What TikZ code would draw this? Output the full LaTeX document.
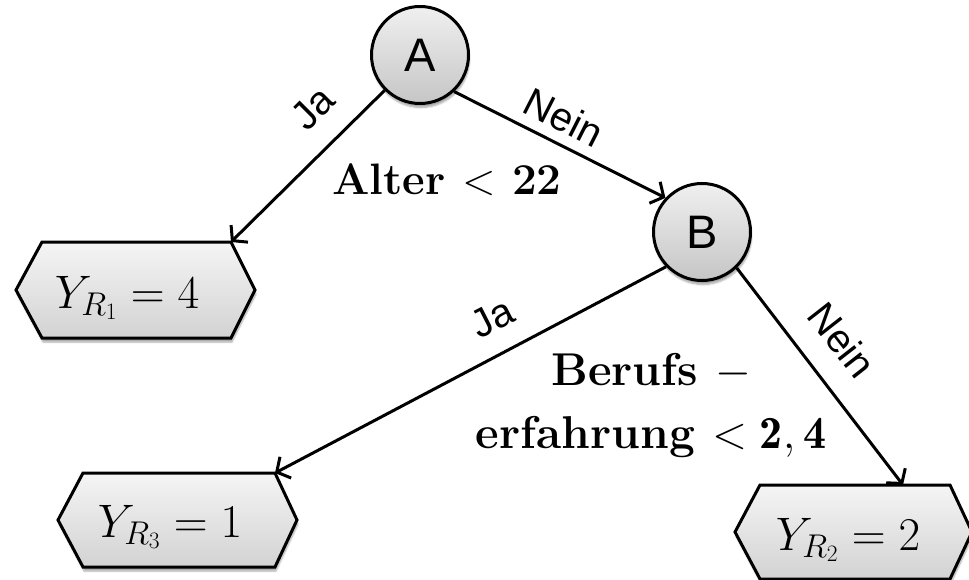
\RequirePackage{fix-cm}
\documentclass[tikz,border=0pt]{standalone}
\usepackage{fontspec}
\newfontfamily\arialf{Liberation Sans}
\usetikzlibrary{arrows.meta,shadows.blur}
\begin{document}
\begin{tikzpicture}[x=1pt,y=-1pt,
  every node/.style={inner sep=0pt},
  softshadow/.style={blur shadow={shadow xshift=1pt,shadow yshift=-4pt,shadow blur steps=6,shadow opacity=35}},
  decision/.style={circle,draw,line width=3pt,minimum size=97pt,top color=gray!12,bottom color=gray!45,softshadow,font=\arialf\fontsize{47}{50}\selectfont},
  leaf/.style={draw,line width=3pt,line join=miter,top color=gray!8,bottom color=gray!35,softshadow},
  conn/.style={line width=3pt,-{Straight Barb[length=10pt,width=24pt]}},
  lab/.style={font=\arialf\fontsize{40}{44}\selectfont},
  cond/.style={font=\fontsize{44}{52}\selectfont\bfseries},
  condb/.style={font=\fontsize{46}{54}\selectfont\bfseries},
  ytext/.style={font=\fontsize{47}{54}\selectfont}]
\useasboundingbox (0,0) rectangle (969,580);
% leaves
\draw[leaf] (16,290) -- (42,242) -- (231,242) -- (255,290) -- (231,338) -- (42,338) -- cycle;
\draw[leaf] (58,520) -- (83,473) -- (275,473) -- (297,520) -- (275,567) -- (83,567) -- cycle;
\draw[leaf] (735,532) -- (760,485) -- (950,485) -- (972,532) -- (950,579) -- (760,579) -- cycle;
\coordinate (h1tr) at (231,242);
\coordinate (h3tr) at (275,473);
\coordinate (h2tp) at (903,485);
\node[ytext,anchor=base] (y1) at (127,308) {$Y_{R_1} = 4$};
\node[ytext,anchor=base] (y3) at (170,537) {$Y_{R_3} = 1$};
\node[ytext,anchor=base] (y2) at (848,550) {$Y_{R_2} = 2$};
% decisions
\node[decision] (A) at (420,55) {A};
\node[decision] (B) at (702,232) {B};
% connectors
\draw[conn] (A.225) -- (h1tr);
\draw[conn] (A.-47) -- (B.137);
\draw[conn] (B.224) -- (h3tr);
\draw[conn] (B.-46) -- (h2tp);
% labels
\node[lab,rotate=45] (ja1) at (313,108) {Ja};
\node[lab,rotate=-27] (nein1) at (564,117) {Nein};
\node[lab,rotate=27] (ja2) at (492,318) {Ja};
\node[lab,rotate=-52] (nein2) at (842,340) {Nein};
\node[cond,anchor=base] (c1) at (447,195) {Alter $<$ 22};
\node[condb,anchor=base] (c2a) at (651,385) {Berufs $-$};
\node[condb,anchor=base] (c2b) at (651,448) {erfahrung $<\mathbf{2,4}$};
\end{tikzpicture}
\end{document}
